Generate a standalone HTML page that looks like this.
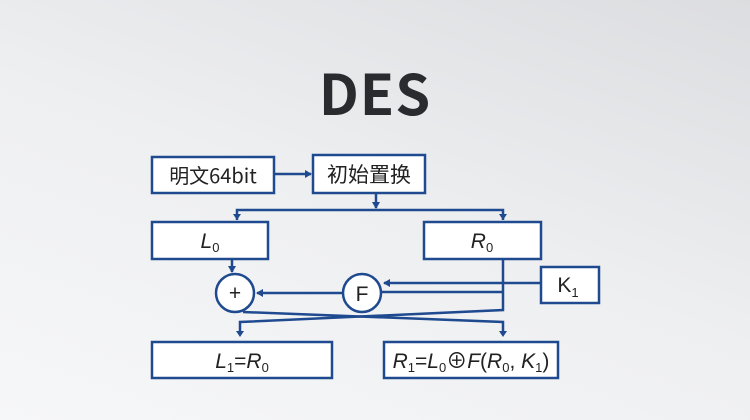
<!DOCTYPE html><html><head><meta charset="utf-8"><style>
body{margin:0;width:750px;height:420px;overflow:hidden;background:linear-gradient(200deg,#dcdde0 0%,#eeeff1 50%,#f6f7f8 100%);font-family:"Liberation Sans","Noto Sans CJK SC",sans-serif;}
.t{position:absolute;left:0;width:750px;top:50px;text-align:center;font:bold 56px "Noto Sans CJK SC",sans-serif;color:#2a2b2e;line-height:84px;letter-spacing:1px}
</style></head><body>
<div class="t">DES</div>
<svg width="750" height="420" style="position:absolute;left:0;top:0">
<defs><marker id="a" markerWidth="8" markerHeight="8" refX="6" refY="4" orient="auto" markerUnits="userSpaceOnUse"><path d="M0,0L7,4L0,8z" fill="#1f4a8f"/></marker></defs>
<g fill="#fff" stroke="#1f4a8f" stroke-width="2.5">
<rect x="152" y="157" width="122" height="36"/><rect x="313" y="155" width="112" height="38"/>
<rect x="152" y="222" width="116" height="37"/><rect x="424" y="222" width="117" height="37"/>
<rect x="541" y="267" width="58" height="36"/>
<rect x="152" y="342" width="180" height="36"/><rect x="384" y="342" width="174" height="36"/>
<circle cx="235" cy="293" r="19"/><circle cx="362" cy="293" r="19"/>
</g>
<g fill="none" stroke="#1f4a8f" stroke-width="2.5">
<line x1="274" y1="174" x2="311" y2="174" marker-end="url(#a)"/>
<line x1="376" y1="193" x2="376" y2="208" marker-end="url(#a)"/>
<polyline points="237,220 237,210 503,210 503,220"/>
<path d="M233,214l4,6l4,-6z M499,214l4,6l4,-6z" fill="#1f4a8f" stroke="none"/>
<line x1="232" y1="259" x2="232" y2="272" marker-end="url(#a)"/>
<polyline points="503,259 503,310 240,322 240,332"/>
<polyline points="243,312 503,322 503,332"/>
<path d="M236,331l4,6l4,-6z M499,331l4,6l4,-6z" fill="#1f4a8f" stroke="none"/>
<line x1="541" y1="283" x2="384" y2="283" marker-end="url(#a)"/>
<line x1="503" y1="292" x2="381" y2="292"/>
<line x1="343" y1="293" x2="257" y2="293" marker-end="url(#a)"/>
</g>
<g font-size="21" fill="#222" text-anchor="middle" font-family="Liberation Sans,Noto Sans CJK SC,sans-serif">
<text x="213" y="183" font-family="Noto Sans CJK SC,sans-serif" font-size="20">明文64bit</text><text x="369" y="182" font-family="Noto Sans CJK SC,sans-serif" font-size="21">初始置换</text>
<text x="210" y="248" font-style="italic">L<tspan font-size="13" font-style="normal" dy="4">0</tspan></text>
<text x="482" y="248" font-style="italic">R<tspan font-size="13" font-style="normal" dy="4">0</tspan></text>
<text x="568" y="292">K<tspan font-size="13" dy="5">1</tspan></text>
<text x="235" y="300">+</text><text x="362" y="301">F</text>
<text x="242" y="368" font-style="italic">L<tspan font-size="13" font-style="normal" dy="4">1</tspan><tspan dy="-4" font-style="normal">=</tspan>R<tspan font-size="13" font-style="normal" dy="4">0</tspan></text>
<text x="471" y="368" font-style="italic">R<tspan font-size="13" font-style="normal" dy="4">1</tspan><tspan dy="-4" font-style="normal">=</tspan>L<tspan font-size="13" font-style="normal" dy="4">0</tspan><tspan dy="-4" font-style="normal">⊕</tspan>F<tspan font-style="normal">(</tspan>R<tspan font-size="13" font-style="normal" dy="4">0</tspan><tspan dy="-4" font-style="normal">, </tspan>K<tspan font-size="13" font-style="normal" dy="4">1</tspan><tspan dy="-4" font-style="normal">)</tspan></text>
</g>
</svg>
</body></html>
